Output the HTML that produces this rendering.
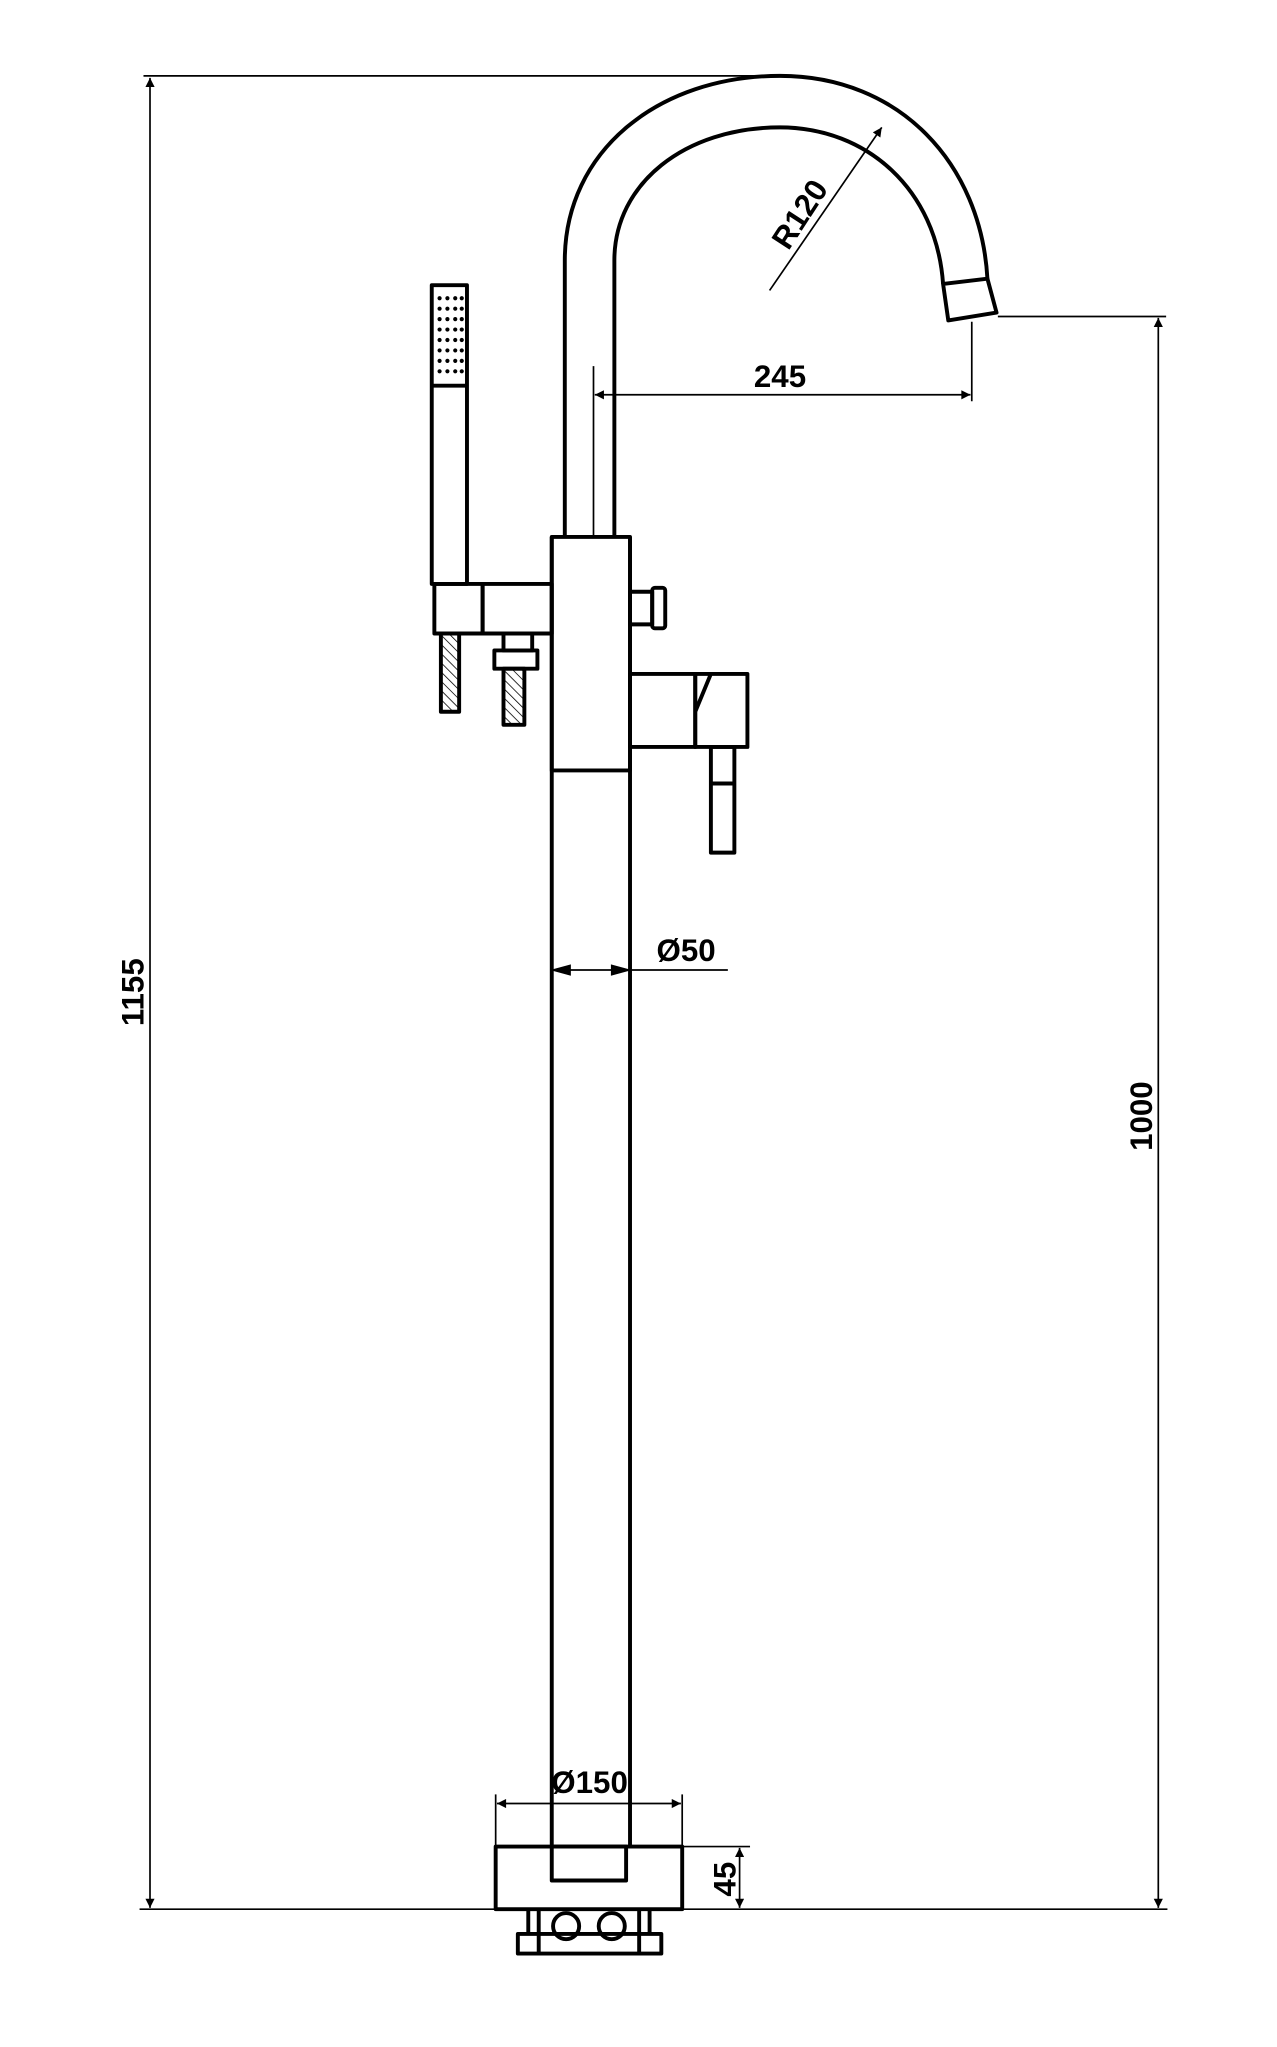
<!DOCTYPE html>
<html><head><meta charset="utf-8"><style>
html,body{margin:0;padding:0;background:#fff;}
svg{display:block;}
text{font-family:"Liberation Sans",Arial,sans-serif;font-weight:bold;fill:#000;}
</style></head><body>
<svg width="1277" height="2047" viewBox="0 0 979 1568" xmlns="http://www.w3.org/2000/svg">
<defs>
<marker id="a" viewBox="0 0 10 10" refX="10" refY="5" markerWidth="14" markerHeight="7" orient="auto-start-reverse" markerUnits="userSpaceOnUse"><path d="M0,0 L10,5 L0,10 z" fill="#000"/></marker>
<pattern id="h" width="5" height="5" patternUnits="userSpaceOnUse" patternTransform="rotate(-45)"><line x1="0" y1="0" x2="0" y2="5" stroke="#000" stroke-width="1.2"/></pattern>
</defs>
<g fill="none" stroke="#000" stroke-width="1.3">
<line x1="110" y1="57.5" x2="600" y2="57.5"/>
<line x1="115" y1="59" x2="115" y2="1462" marker-start="url(#a)" marker-end="url(#a)"/>
<line x1="107" y1="1463" x2="895" y2="1463"/>
<line x1="765" y1="242" x2="894" y2="242"/>
<line x1="888" y1="243" x2="888" y2="1462" marker-start="url(#a)" marker-end="url(#a)"/>
<line x1="455" y1="280" x2="455" y2="411"/>
<line x1="745" y1="246" x2="745" y2="307"/>
<line x1="456" y1="302" x2="744" y2="302" marker-start="url(#a)" marker-end="url(#a)"/>
<line x1="590" y1="222" x2="676" y2="97" marker-end="url(#a)"/>
<line x1="424" y1="743" x2="558" y2="743"/>
<path d="M424,743 l13,-3.5 v7 z M482,743 l-13,-3.5 v7 z" fill="#000"/>
<line x1="380" y1="1375" x2="380" y2="1415"/>
<line x1="523" y1="1375" x2="523" y2="1415"/>
<line x1="381" y1="1382" x2="522" y2="1382" marker-start="url(#a)" marker-end="url(#a)"/>
<line x1="523" y1="1415" x2="575" y2="1415"/>
<line x1="567" y1="1416" x2="567" y2="1462" marker-start="url(#a)" marker-end="url(#a)"/>
</g>
<g fill="none" stroke="#000" stroke-width="3" stroke-linejoin="round">
<path d="M433,411 L433,199 C433,115 505,57.5 598,57.5 C690,57.5 752,125 757,213"/>
<path d="M471,411 L471,199 C471,140 525,97 598,97 C665,97 718,145 723,217"/>
<path d="M723,217 L757,213 L764,239 L727,245 Z"/>
<rect x="423" y="411" width="60" height="179"/>
<line x1="423" y1="411" x2="423" y2="1415"/>
<line x1="483" y1="411" x2="483" y2="1415"/>
<rect x="380" y="1415" width="143" height="48"/>
<rect x="423" y="1415" width="57" height="26"/>
<rect x="397" y="1482" width="110" height="15"/>
<line x1="405" y1="1463" x2="405" y2="1482"/><line x1="413" y1="1463" x2="413" y2="1497"/>
<line x1="490" y1="1463" x2="490" y2="1497"/><line x1="498" y1="1463" x2="498" y2="1482"/>
<circle cx="434" cy="1476" r="10"/><circle cx="469" cy="1476" r="10"/>
<rect x="331" y="218" width="27" height="229"/>
<line x1="331" y1="295" x2="358" y2="295"/>
<rect x="333" y="447" width="37" height="38"/>
<rect x="370" y="447" width="53" height="38"/>
<rect x="338" y="485" width="14" height="60" fill="url(#h)"/>
<rect x="386" y="485" width="22" height="13"/>
<rect x="379" y="498" width="33" height="14"/>
<rect x="386" y="512" width="16" height="43" fill="url(#h)"/>
<rect x="483" y="453" width="17" height="25"/>
<rect x="500" y="450" width="10" height="31" rx="2"/>
<rect x="483" y="516" width="50" height="56"/>
<path d="M533,516 L573,516 L573,572 L533,572 Z M545,516 L533,545"/>
<rect x="545" y="572" width="18" height="81"/>
<line x1="545" y1="600" x2="563" y2="600"/>
</g>
<g fill="#000">
<g id="dots">
<circle cx="337" cy="228" r="1.6"/><circle cx="343" cy="228" r="1.6"/><circle cx="349" cy="228" r="1.6"/><circle cx="354" cy="228" r="1.6"/>
</g>
<use href="#dots" y="8"/><use href="#dots" y="16"/><use href="#dots" y="24"/><use href="#dots" y="32"/><use href="#dots" y="40"/><use href="#dots" y="48"/><use href="#dots" y="56"/>
</g>
<text x="598" y="296" font-size="24" text-anchor="middle">245</text>
<text x="0" y="0" font-size="24" text-anchor="middle" transform="translate(620,168) rotate(-57)">R120</text>
<text x="526" y="736" font-size="24" text-anchor="middle">Ø50</text>
<text x="452" y="1374" font-size="24" text-anchor="middle">Ø150</text>
<text x="0" y="0" font-size="24" text-anchor="middle" transform="translate(564,1440) rotate(-90)">45</text>
<text x="0" y="0" font-size="24" text-anchor="middle" transform="translate(110,760) rotate(-90)">1155</text>
<text x="0" y="0" font-size="24" text-anchor="middle" transform="translate(883,855) rotate(-90)">1000</text>
</svg>
</body></html>
